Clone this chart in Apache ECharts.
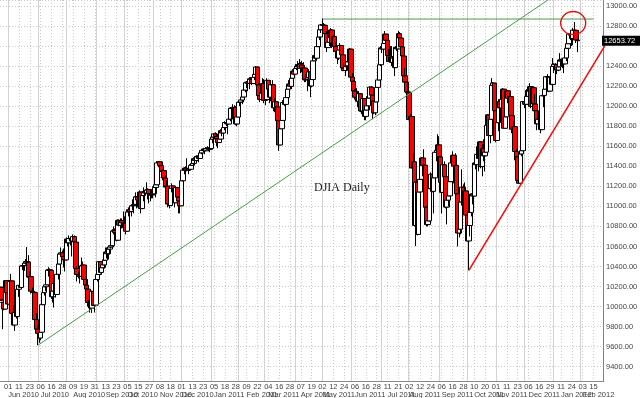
<!DOCTYPE html>
<html>
<head>
<meta charset="utf-8">
<script src="https://cdn.jsdelivr.net/npm/echarts@6/dist/echarts.min.js"></script>
<style>html,body{margin:0;padding:0;background:#fff}#c{width:640px;height:398px}</style>
</head>
<body>
<div id="c"></div>
<script>
// ---------- calendar ----------
const firstDay = '2010-05-21';
const lastDay = '2012-02-27';
const holidays = ['2010-05-31','2010-07-05','2010-09-06','2010-11-25','2010-12-24','2011-01-17','2011-02-21',
  '2011-04-22','2011-05-30','2011-07-04','2011-09-05','2011-11-24','2011-12-26','2012-01-02','2012-01-16','2012-02-20'];

// ---------- tick labels ----------
const dayTicks = ['2010-06-01','2010-06-11','2010-06-23','2010-07-06','2010-07-16','2010-07-28','2010-08-09','2010-08-19',
  '2010-08-31','2010-09-13','2010-09-23','2010-10-05','2010-10-15','2010-10-27','2010-11-08','2010-11-18','2010-12-01',
  '2010-12-13','2010-12-23','2011-01-05','2011-01-18','2011-01-28','2011-02-09','2011-02-22','2011-03-04','2011-03-16',
  '2011-03-28','2011-04-07','2011-04-19','2011-05-02','2011-05-12','2011-05-24','2011-06-06','2011-06-16','2011-06-28',
  '2011-07-11','2011-07-21','2011-08-02','2011-08-12','2011-08-24','2011-09-06','2011-09-16','2011-09-28','2011-10-10',
  '2011-10-20','2011-11-01','2011-11-11','2011-11-23','2011-12-06','2011-12-16','2011-12-29','2012-01-11','2012-01-24',
  '2012-02-03','2012-02-15'];
const monthNames = ['Jan','Feb','Mar','Apr','May','Jun','Jul','Aug','Sep','Oct','Nov','Dec'];
const yMin = 9252, yMax = 13060, yStep = 200;

// ---------- OHLC rows [open, high, low, close] ----------
const candles2010 = [
// May
[10063,10194,9918,10193],[10193,10193,10056,10067],[10040,10043,9774,10043],[10043,10204,9963,9975],[9975,10265,9975,10259],[10259,10259,10100,10137],
// Jun
[10137,10230,10017,10025],[10025,10250,9992,10250],[10250,10326,10188,10256],[10256,10256,9914,9932],[9932,10012,9816,9816],[9816,9955,9757,9940],
[9940,10100,9880,9900],[9900,10174,9900,10173],[10173,10215,10097,10212],[10212,10334,10185,10191],[10191,10408,10191,10405],[10405,10427,10363,10410],
[10410,10446,10356,10434],[10434,10474,10418,10450],[10450,10594,10422,10443],[10443,10513,10285,10294],[10294,10350,10237,10299],[10299,10300,10130,10153],
[10153,10190,10094,10144],[10144,10195,10098,10139],[10139,10139,9835,9870],[9870,9931,9758,9774],
// Jul
[9774,9809,9614,9732],[9732,9794,9638,9686],[9686,9912,9662,9744],[9744,10025,9744,10019],[10019,10160,10019,10139],[10139,10200,10110,10198],
[10198,10252,10153,10217],[10217,10376,10217,10364],[10364,10393,10300,10367],[10367,10380,10221,10360],[10360,10360,10076,10098],[10098,10160,10040,10155],
[10155,10230,9990,10230],[10230,10305,10090,10121],[10121,10340,10121,10322],[10322,10430,10270,10425],[10425,10530,10420,10525],[10525,10590,10500,10537],
[10537,10560,10470,10498],[10498,10580,10390,10468],[10468,10500,10350,10466],
// Aug
[10466,10690,10466,10674],[10674,10680,10600,10636],[10636,10710,10630,10680],[10680,10690,10610,10675],[10675,10675,10500,10654],[10654,10720,10650,10698],
[10698,10710,10550,10644],[10644,10644,10370,10379],[10379,10400,10250,10320],[10320,10350,10280,10303],[10303,10340,10230,10302],[10302,10490,10302,10406],
[10406,10450,10350,10415],[10415,10415,10220,10271],[10271,10271,10140,10214],[10214,10300,10170,10174],[10174,10174,10000,10041],[10041,10100,9940,10060],
[10060,10120,9980,9985],[9985,10160,9936,10151],[10151,10151,10010,10010],[10010,10060,9941,10015],
// Sep
[10015,10270,10015,10270],[10270,10320,10250,10320],[10320,10450,10320,10448],[10448,10448,10330,10341],[10341,10420,10340,10388],[10388,10470,10388,10416],
[10416,10470,10380,10462],[10462,10590,10462,10544],[10544,10590,10480,10527],[10527,10580,10470,10573],[10573,10600,10520,10595],[10595,10660,10580,10608],
[10608,10770,10600,10754],[10754,10800,10720,10761],[10761,10780,10680,10739],[10739,10740,10650,10662],[10662,10870,10662,10860],[10860,10870,10800,10812],
[10812,10880,10730,10858],[10858,10880,10780,10835],[10835,10950,10760,10788],
// Oct
[10788,10900,10788,10830],[10830,10830,10720,10752],[10752,10960,10752,10945],[10945,10990,10900,10967],[10967,10990,10880,10948],[10948,11010,10900,11006],
[11006,11070,10960,11010],[11010,11060,10930,11020],[11020,11140,11020,11096],[11096,11100,10980,11095],[11095,11130,10990,11063],[11063,11160,11030,11143],
[11143,11143,10930,10978],[10978,11150,10978,11108],[11108,11190,11050,11146],[11146,11160,11090,11133],[11133,11240,11133,11164],[11164,11180,11070,11169],
[11169,11169,11030,11126],[11126,11170,11050,11113],[11113,11150,11080,11118],
// Nov
[11118,11200,11080,11125],[11125,11230,11125,11189],[11189,11230,11090,11216],[11216,11450,11216,11434],[11434,11450,11390,11445],[11445,11450,11350,11407],
[11407,11450,11300,11347],[11347,11370,11260,11357],[11357,11357,11200,11283],[11283,11300,11160,11193],[11193,11260,11190,11202],[11202,11202,10990,11023],
[11023,11080,10980,11008],[11008,11200,11008,11182],[11182,11230,11140,11204],[11204,11204,11100,11178],[11178,11178,10990,11036],[11036,11190,11036,11187],
[11187,11187,11080,11092],[11092,11092,10930,11052],[11052,11052,10930,11006],
// Dec
[11006,11270,11006,11256],[11256,11370,11250,11362],[11362,11390,11320,11382],[11382,11400,11340,11362],[11362,11480,11350,11359],[11359,11390,11320,11372],
[11372,11420,11360,11370],[11370,11420,11370,11410],[11410,11470,11410,11429],[11429,11490,11410,11476],[11476,11490,11430,11457],[11457,11510,11440,11499],
[11499,11510,11470,11492],[11492,11520,11440,11478],[11478,11540,11478,11534],[11534,11560,11520,11559],[11559,11580,11540,11573],[11573,11580,11520,11555],
[11555,11590,11550,11575],[11575,11600,11570,11585],[11585,11590,11550,11569],[11569,11590,11540,11578]
];
const candles2011 = [
// Jan
[11578,11710,11578,11671],[11671,11720,11630,11692],[11692,11730,11650,11723],[11723,11740,11670,11698],[11698,11730,11600,11675],[11675,11680,11580,11637],
[11637,11740,11637,11672],[11672,11770,11672,11755],[11755,11760,11700,11732],[11732,11790,11700,11787],[11787,11850,11760,11837],[11837,11860,11800,11825],
[11825,11830,11720,11822],[11822,11900,11822,11871],[11871,11990,11850,11980],[11980,11980,11870,11977],[11977,12020,11950,11985],[11985,12010,11950,11989],
[11989,12000,11810,11823],[11823,11900,11800,11892],
// Feb
[11892,12050,11892,12040],[12040,12050,12000,12041],[12041,12080,11970,12062],[12062,12100,12020,12092],[12092,12200,12092,12161],[12161,12240,12140,12234],
[12234,12250,12180,12240],[12240,12250,12150,12229],[12229,12290,12170,12273],[12273,12290,12230,12268],[12268,12280,12210,12226],[12226,12310,12226,12288],
[12288,12330,12260,12318],[12318,12400,12300,12391],[12391,12391,12200,12212],[12212,12230,12060,12105],[12105,12140,12040,12068],[12068,12160,12068,12130],
[12130,12280,12130,12226],
// Mar
[12226,12270,12030,12058],[12058,12120,12010,12066],[12066,12280,12066,12258],[12258,12260,12100,12170],[12170,12220,12030,12090],[12090,12250,12050,12214],
[12214,12260,12180,12214],[12214,12214,11950,11984],[11984,12080,11940,12044],[12044,12044,11900,11993],[11993,11993,11700,11855],[11855,11855,11555,11613],
[11613,11800,11613,11775],[11775,11930,11775,11858],[11858,12060,11858,12036],[12036,12060,12000,12018],[12018,12100,11980,12086],[12086,12190,12086,12170],
[12170,12260,12170,12221],[12221,12260,12190,12198],[12198,12280,12170,12279],[12279,12370,12279,12350],[12350,12360,12310,12320],
// Apr
[12320,12420,12320,12377],[12377,12420,12360,12400],[12400,12450,12370,12393],[12393,12470,12393,12426],[12426,12440,12330,12409],[12409,12450,12340,12380],
[12380,12440,12370,12381],[12381,12381,12240,12263],[12263,12320,12240,12270],[12270,12290,12150,12285],[12285,12370,12285,12342],[12342,12342,12090,12202],
[12202,12280,12190,12266],[12266,12460,12266,12453],[12453,12520,12453,12506],[12506,12520,12460,12479],[12479,12610,12479,12595],[12595,12700,12590,12691],
[12691,12780,12660,12763],[12763,12820,12730,12811],
// May
[12811,12876,12760,12808],[12808,12830,12740,12807],[12807,12820,12660,12724],[12724,12750,12540,12585],[12585,12750,12585,12638],[12638,12700,12600,12685],
[12685,12780,12685,12761],[12761,12770,12580,12631],[12631,12710,12540,12696],[12696,12710,12560,12596],[12596,12640,12520,12548],[12548,12560,12420,12480],
[12480,12580,12460,12561],[12561,12630,12540,12606],[12606,12606,12480,12513],[12513,12513,12350,12381],[12381,12430,12350,12356],[12356,12450,12300,12395],
[12395,12450,12350,12403],[12403,12460,12390,12442],[12442,12580,12442,12570],
// Jun
[12570,12570,12280,12290],[12290,12330,12200,12248],[12248,12260,12100,12151],[12151,12170,12070,12089],[12089,12180,12060,12070],[12070,12080,11990,12049],
[12049,12150,12040,12125],[12125,12130,11940,11952],[11952,12030,11920,11953],[11953,12110,11953,12076],[12076,12076,11860,11898],[11898,12000,11860,11962],
[11962,12100,11960,12004],[12004,12100,11960,12081],[12081,12200,12081,12190],[12190,12200,12100,12110],[12110,12110,11870,12050],[12050,12060,11920,11934],
[11934,12080,11910,12043],[12043,12200,12043,12188],[12188,12280,12188,12262],[12262,12430,12262,12414],
// Jul
[12414,12600,12400,12582],[12582,12590,12530,12570],[12570,12650,12520,12626],[12626,12750,12626,12719],[12719,12719,12550,12657],[12657,12657,12480,12505],
[12505,12570,12440,12446],[12446,12600,12440,12491],[12491,12600,12400,12437],[12437,12500,12400,12480],[12480,12480,12300,12385],[12385,12600,12385,12587],
[12587,12620,12550,12572],[12572,12750,12570,12724],[12724,12740,12640,12681],[12681,12681,12560,12592],[12592,12600,12480,12501],[12501,12501,12290,12303],
[12303,12380,12220,12240],[12240,12240,12030,12143],
// Aug
[12143,12290,11940,12133],[12133,12133,11860,11867],[11867,11920,11700,11897],[11897,11900,11380,11384],[11384,11530,11140,11445],[11445,11445,10800,10810],
[10810,11250,10604,11240],[11240,11240,10710,10720],[10720,11240,10720,11144],[11144,11350,11140,11270],[11270,11490,11270,11483],[11483,11483,11300,11406],
[11406,11570,11330,11411],[11411,11411,10860,10991],[10991,11000,10800,10818],[10818,11020,10800,10855],[10855,11180,10850,11177],[11177,11340,11150,11321],
[11321,11390,11140,11150],[11150,11300,10930,11285],[11285,11540,11285,11540],[11540,11600,11450,11560],[11560,11720,11560,11614],
// Sep
[11614,11700,11490,11494],[11494,11494,11230,11240],[11240,11240,10930,11140],[11140,11420,11140,11415],[11415,11450,11280,11296],[11296,11296,10980,10993],
[10993,11080,10820,11062],[11062,11170,11000,11105],[11105,11400,11100,11247],[11247,11440,11247,11434],[11434,11550,11430,11510],[11510,11510,11230,11401],
[11401,11530,11400,11409],[11409,11430,11120,11125],[11125,11125,10600,10734],[10734,10810,10690,10772],[10772,11050,10720,11044],[11044,11370,11044,11191],
[11191,11220,11000,11011],[11011,11240,11011,11154],[11154,11154,10910,10913],
// Oct
[10913,10950,10650,10655],[10655,10820,10362,10809],[10809,10950,10700,10940],[10940,11130,10900,11123],[11123,11210,11020,11103],[11103,11440,11103,11433],
[11433,11450,11370,11416],[11416,11600,11416,11519],[11519,11519,11350,11478],[11478,11650,11478,11644],[11644,11650,11380,11397],[11397,11620,11300,11577],
[11577,11670,11450,11505],[11505,11580,11350,11541],[11541,11820,11541,11809],[11809,11920,11800,11913],[11913,11913,11700,11707],[11707,11890,11630,11870],
[11870,12280,11870,12209],[12209,12240,12150,12231],[12231,12231,11950,11955],
// Nov
[11955,11955,11640,11658],[11658,11840,11658,11836],[11836,12070,11750,12044],[12044,12044,11840,11983],[11983,12090,11880,12069],[12069,12180,12000,12170],
[12170,12170,11780,11780],[11780,11930,11780,11894],[11894,12160,11894,12153],[12153,12160,12030,12079],[12079,12130,11970,12096],[12096,12100,11900,11906],
[11906,11920,11730,11770],[11770,11850,11760,11796],[11796,11796,11460,11548],[11548,11570,11440,11494],[11494,11494,11250,11258],[11258,11330,11230,11231],
[11231,11530,11231,11523],[11523,11620,11500,11556],[11556,12050,11556,12046],
// Dec
[12046,12060,11980,12020],[12020,12160,12010,12019],[12019,12170,12019,12098],[12098,12170,12060,12151],[12151,12230,12060,12196],[12196,12196,11980,11998],
[11998,12190,11998,12185],[12185,12185,11950,12022],[12022,12120,11930,11955],[11955,11955,11760,11824],[11824,11960,11824,11869],[11869,11970,11850,11866],
[11866,11900,11730,11766],[11766,12110,11766,12104],[12104,12130,11990,12108],[12108,12180,12100,12170],[12170,12300,12170,12294],[12294,12320,12230,12291],
[12291,12300,12140,12151],[12151,12290,12151,12288],[12288,12290,12210,12218]
];
const candles2012 = [
// Jan
[12218,12480,12218,12398],[12398,12430,12330,12418],[12418,12430,12300,12415],[12415,12420,12320,12360],[12360,12410,12350,12393],[12393,12530,12393,12462],
[12462,12470,12400,12449],[12449,12480,12380,12471],[12471,12471,12330,12422],[12422,12560,12420,12482],[12482,12590,12450,12578],[12578,12660,12570,12624],
[12624,12730,12624,12720],[12720,12760,12660,12709],[12709,12710,12600,12676],[12676,12780,12610,12759],[12759,12841,12700,12757],[12757,12757,12630,12660],
[12660,12660,12540,12653.72]
];

// ---------- annotation anchors (date, value) ----------
const greenTrend = [['2010-07-01', 9614], ['2012-01-30', 13258]];
const resistance = [['2011-05-02', 12870], ['2012-02-15', 12870]];
const redTrend = [['2011-10-04', 10362], ['2012-01-30', 12149]];
const circleAnchor = ['2012-01-25', 12830];
const chartTitle = 'DJIA Daily';

// ---------- build ----------
const pad = n => (n < 10 ? '0' : '') + n;
const fmt = d => d.getUTCFullYear() + '-' + pad(d.getUTCMonth() + 1) + '-' + pad(d.getUTCDate());
const holidaySet = new Set(holidays);
const dates = [];
for (let d = new Date(firstDay + 'T00:00:00Z'); fmt(d) <= lastDay; d.setUTCDate(d.getUTCDate() + 1)) {
  const wd = d.getUTCDay();
  if (wd === 0 || wd === 6) continue;
  const s = fmt(d);
  if (holidaySet.has(s)) continue;
  dates.push(s);
}
const rows = candles2010.concat(candles2011, candles2012);
const ohlcData = rows.map(r => [r[0], r[3], r[2], r[1]]); // open, close, low, high
const lastClose = rows[rows.length - 1][3];
const idx = {}; dates.forEach((d, i) => idx[d] = i);

const tickSet = new Set(dayTicks);
const monthLabelList = [];
let prevM = '';
dayTicks.forEach(t => { const m = t.slice(0, 7); if (m !== prevM) monthLabelList.push(t); prevM = m; });
const monthSetA = new Set(monthLabelList.filter((t, k) => k % 2 === 0));
const monthSetB = new Set(monthLabelList.filter((t, k) => k % 2 === 1));
const monthStartSet = new Set();
let pm = '';
dates.forEach(d => { const m = d.slice(0, 7); if (m !== pm) { if (pm !== '') monthStartSet.add(d); pm = m; } });

function extend(anchor, toIndex) {
  const i0 = idx[anchor[0][0]], i1 = idx[anchor[1][0]];
  const v0 = anchor[0][1], v1 = anchor[1][1];
  const slope = (v1 - v0) / (i1 - i0);
  return [[i0, v0], [toIndex, v0 + slope * (toIndex - i0)]];
}

const labelFont = 'Liberation Sans';
const monthText = v => monthNames[+v.slice(5, 7) - 1] + ' ' + v.slice(0, 4);
function monthAxis(set, withLines) {
  return {
    type: 'category', data: dates, boundaryGap: false, position: 'bottom',
    axisLine: { show: false }, axisTick: { show: false },
    axisLabel: {
      interval: (i, v) => set.has(v), showMinLabel: true, showMaxLabel: true, hideOverlap: false,
      formatter: v => set.has(v) ? monthText(v) : '',
      align: 'left', fontSize: 7.5, fontFamily: labelFont, color: '#444', margin: 9
    },
    splitLine: withLines
      ? { show: true, interval: (i, v) => monthStartSet.has(v), lineStyle: { color: '#d2d2d2', type: 'solid', width: 1 } }
      : { show: false }
  };
}

const chart = echarts.init(document.getElementById('c'), null, { renderer: 'canvas' });
chart.setOption({
  animation: false,
  backgroundColor: '#ffffff',
  grid: { left: 0, right: 37, top: 0, bottom: 16.5, containLabel: false, outerBoundsMode: 'none' },
  xAxis: [
    {
      type: 'category', data: dates, boundaryGap: false, position: 'bottom',
      axisLine: { show: true, lineStyle: { color: '#888', width: 1 } },
      axisTick: { show: false },
      axisLabel: {
        interval: (i, v) => tickSet.has(v),
        formatter: v => tickSet.has(v) ? v.slice(8, 10) : '',
        fontSize: 7.5, fontFamily: labelFont, color: '#444', margin: 1.5
      },
      splitLine: { show: true, interval: (i, v) => tickSet.has(v), lineStyle: { color: '#c8c8c8', type: [1, 2], width: 1 } }
    },
    monthAxis(monthSetA, true),
    monthAxis(monthSetB, false)
  ],
  yAxis: {
    type: 'value', position: 'right', min: yMin, max: yMax, minInterval: yStep, maxInterval: yStep,
    axisLine: { show: true, lineStyle: { color: '#808080', width: 1 } },
    axisTick: { show: false },
    axisLabel: {
      formatter: v => (v % yStep === 0 && Math.abs(v - lastClose) > 80) ? v.toFixed(2) : '',
      fontSize: 7.5, fontFamily: labelFont, color: '#444', margin: 3
    },
    splitLine: { show: true, lineStyle: { color: '#c8c8c8', type: [1, 2], width: 1 } }
  },
  series: [
    {
      type: 'candlestick', xAxisIndex: 0, yAxisIndex: 0, data: ohlcData, barWidth: 5,
      itemStyle: { color: '#ffffff', color0: '#ff0000', borderColor: '#000000', borderColor0: '#000000', borderWidth: 1 },
      z: 3
    },
    {
      type: 'line', data: extend(greenTrend, 420), symbol: 'none', clip: false, silent: true,
      lineStyle: { color: '#4a9a4a', width: 1 }, z: 5
    },
    {
      type: 'line', data: resistance.map(p => [idx[p[0]], p[1]]), symbol: 'none', silent: true,
      lineStyle: { color: '#4a9a4a', width: 1 }, z: 5
    },
    {
      type: 'line', data: extend(redTrend, 476), symbol: 'none', clip: false, silent: true,
      lineStyle: { color: '#ee1111', width: 1.6 }, z: 6
    }
  ]
});

const yLast = chart.convertToPixel({ yAxisIndex: 0 }, lastClose);
const xRight = chart.convertToPixel({ xAxisIndex: 0 }, dates[dates.length - 1]);
const cc = chart.convertToPixel({ xAxisIndex: 0, yAxisIndex: 0 }, [idx[circleAnchor[0]], circleAnchor[1]]);
chart.setOption({
  graphic: [
    { type: 'rect', z: 20, shape: { x: xRight - 1, y: yLast - 5, width: 50, height: 10 }, style: { fill: '#000' } },
    { type: 'text', z: 21, style: { text: lastClose.toFixed(2), x: xRight + 1, y: yLast, verticalAlign: 'middle',
        font: '7.5px "Liberation Sans"', fill: '#fff' } },
    { type: 'ellipse', z: 22, shape: { cx: cc[0], cy: cc[1], rx: 12.5, ry: 11.5 },
      style: { fill: 'none', stroke: '#e01010', lineWidth: 1.4 } },
    { type: 'text', z: 22, style: { text: chartTitle, x: 314, y: 182, font: '12px "Liberation Serif"', fill: '#222' } }
  ]
});
</script>
</body>
</html>
